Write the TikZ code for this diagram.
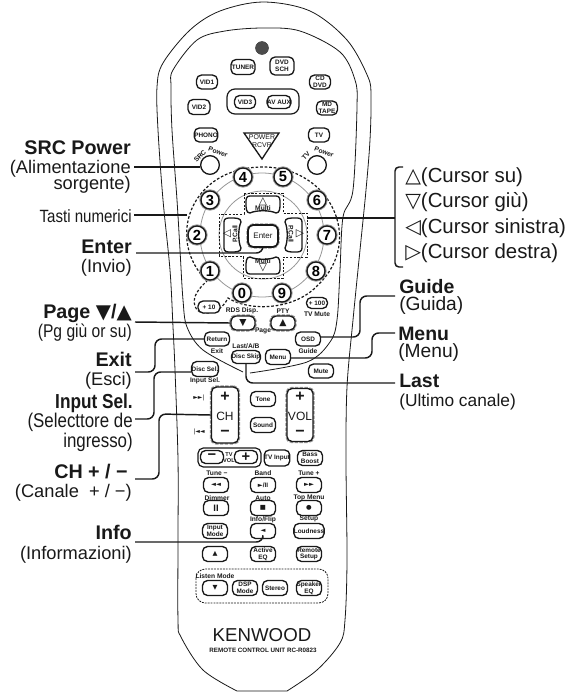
\documentclass[tikz,border=0pt]{standalone}
\usepackage{fontspec}
\setmainfont{Liberation Sans}
\newfontfamily\symbfont{DejaVu Sans}
\newcommand{\symb}[1]{{\symbfont #1}}
\newcommand{\narrowtxt}[1]{\scalebox{0.85}[1]{#1}}
\definecolor{inkblack}{RGB}{25, 25, 25}
\definecolor{halogray}{RGB}{150, 150, 150}
\tikzset{
  bodyline/.style={line width=0.6pt, inkblack},
  conn/.style={line width=1.1pt, inkblack, rounded corners=5pt},
  btn/.style 2 args={rectangle, rounded corners=3.8pt, draw=inkblack, fill=white, line width=1pt,
    minimum width=#1*0.75pt, minimum height=#2*0.75pt, inner sep=0pt, align=center,
    text=inkblack, font=\fontsize{4.8}{5}\selectfont\bfseries},
  padkey/.style={draw=inkblack, fill=white, line width=1pt},
  numkey/.style={circle, draw=inkblack, fill=white, line width=1pt, minimum size=13.5pt, inner sep=0pt,
    preaction={draw=halogray, line width=2.4pt}, font=\fontsize{11}{11}\selectfont\bfseries},
  roundkey/.style={circle, draw=inkblack, fill=white, line width=1pt, minimum size=14pt, inner sep=0pt},
  halo/.style={preaction={draw=halogray, densely dotted, line width=2.6pt}},
  tinylbl/.style={inner sep=0pt, align=center, text=inkblack, font=\fontsize{5}{5.4}\selectfont\bfseries},
  titlelbl/.style={anchor=base east, inner sep=0pt, text=inkblack, font=\fontsize{14.8}{15}\selectfont\bfseries},
  sublbl/.style={anchor=base east, inner sep=0pt, text=inkblack, font=\fontsize{13.7}{14}\selectfont},
  rtitle/.style={anchor=base west, inner sep=0pt, text=inkblack, font=\fontsize{14.6}{15}\selectfont\bfseries},
  rsub/.style={anchor=base west, inner sep=0pt, text=inkblack, font=\fontsize{14.4}{15}\selectfont}
}

\begin{document}
\begin{tikzpicture}[x=0.75pt, y=-0.75pt]
  \useasboundingbox (0,0) rectangle (580,693);

  % ===== remote body =====
  \draw[bodyline] plot[smooth, tension=0.55] coordinates
    {(237,691) (203,670) (181,637) (178,620) (178,540) (178,460) (175,370) (173,327) (170,270) (163,200)
     (158,130) (157,87) (163,63) (190,30) (220,11) (263,2) (310,11) (347,40) (368,77) (371,97)
     (370,140) (366,190) (360,250) (353,320) (347,387) (346,460) (347,560) (345,620) (340,643) (317,670) (287,691)}
    -- cycle;
  \draw[bodyline] plot[smooth, tension=0.55] coordinates
    {(243,372) (203,350) (187,327) (183,300) (180,250) (177,200) (172,130) (171,87) (173,70) (197,40)
     (225,31) (263,28) (300,31) (340,52) (355,80) (357,107) (353,190) (343,217) (340,270) (337,320)
     (330,342) (307,362) (250,373)};

  % ===== top buttons =====
  \node[circle, draw=inkblack, fill=white, line width=1pt, minimum size=9pt, inner sep=0pt] (led) at (262,48) {};
  \fill[black!70] (led) circle (6.5);
  \draw[line width=0.9pt, inkblack, rounded corners=6pt] (227,89) rectangle (299,114);
  \foreach \nm/\x/\y/\w/\h/\txt in {
      tuner/243/67/24/15/{TUNER}, dvd/282/66/24/18/{DVD\\SCH}, vida/207/82/21/14/{VID1}, cd/320/82/21/14/{CD\\DVD},
      vidc/245/102/21/13/{VID3}, avaux/279/102/23/13/{AV AUX}, vidb/199/107/22/15/{VID2}, md/327/108/21/14/{MD\\TAPE},
      phono/206/135/21/14/{PHONO}, tv/319/135/21/14/{TV}} {
    \node[btn={\w}{\h}] (\nm) at (\x,\y) {\txt};
  }
  \draw[line width=1pt, inkblack] (244,133) -- (279,133) -- (262,159) -- cycle;
  \node[tinylbl, font=\fontsize{5.2}{5.6}\selectfont] (powerrcvr) at (262,141) {POWER\\RCVR};

  \node[roundkey] (srcpower) at (210,165) {};
  \node[roundkey] (tvpower) at (317,165) {};
  \node[tinylbl, rotate=45] (srctxt) at (200,156) {SRC};
  \node[tinylbl, rotate=-22] (srcpowertxt) at (218,152) {Power};
  \node[tinylbl, rotate=45] (tvtxt) at (306,156) {TV};
  \node[tinylbl, rotate=-22] (tvpowertxt) at (324,152) {Power};

  % ===== number ring and cursor keys =====
  \draw[halogray, line width=0.6pt] (262,235) circle (62);
  \draw[halogray, line width=0.6pt] (263,235) circle (44);
  \draw[inkblack, line width=0.9pt, dashed, dash pattern=on 2pt off 1.4pt]
    (207,281) .. controls (165,240) and (190,167) .. (263,167)
    .. controls (330,167) and (365,240) .. (318,285)
    .. controls (295,310) and (250,312) .. (228,298)
    .. controls (222,312) and (205,317) .. (197,310)
    .. controls (190,300) and (197,290) .. (207,281);
  \draw[inkblack, line width=0.7pt, dashed, dash pattern=on 1.6pt off 1.2pt]
    (244,193) -- (283,193) -- (283,213) -- (307,213) -- (307,257) -- (283,257) -- (283,278)
    -- (243,278) -- (243,256) -- (219,256) -- (219,214) -- (244,214) -- cycle;

  \foreach \nm/\x/\y/\txt in {keyfour/243/177/4, keyfive/283/177/5, keythree/210/200/3, keysix/317/200/6, keytwo/197/235/2,
      keyseven/327/235/7, keyone/210/271/1, keyeight/316/271/8, keyzero/242/293/0, keynine/282/293/9} {
    \node[numkey] (\nm) at (\x,\y) {\txt};
  }

  % cursor keys: one shape turned four times
  \foreach \ang in {0,90,180,270} {
    \draw[padkey, rotate around={\ang:(263,235)}]
      (250,196) .. controls (246,196) and (246,199) .. (246,203)
      .. controls (246,208) and (246,213) .. (250,213)
      .. controls (256,210) and (270,210) .. (276,213)
      .. controls (280,213) and (280,208) .. (280,203)
      .. controls (280,199) and (280,196) .. (276,196) -- cycle;
  }
  \node[tinylbl] (curup) at (263,204) {{\fontsize{8}{6.5}\selectfont\symb{△}}\\[-0.5pt]Multi};
  \node[tinylbl] (curdown) at (263,265) {Multi\\[-0.5pt]{\fontsize{8}{6.5}\selectfont\symb{▽}}};
  \node[tinylbl, rotate=90] (pcalla) at (235,234) {P.Call};
  \node[tinylbl, rotate=-90] (pcallb) at (291,234) {P.Call};
  \node[tinylbl, font=\fontsize{8}{8}\selectfont\symbfont] (arrowl) at (227,234) {◁};
  \node[tinylbl, font=\fontsize{8}{8}\selectfont\symbfont] (arrowr) at (300,234) {▷};
  \node[btn={30}{22}, halo, line width=1.3pt, font=\fontsize{6}{6}\selectfont] (enter) at (263,236) {Enter};

  % ===== middle buttons =====
  \node[btn={22}{12}] (plusten) at (209,307) {+ 10};
  \node[btn={21}{11}] (plushundred) at (317,303) {+ 100};
  \node[tinylbl] (tvmute) at (317,314) {TV Mute};
  \node[tinylbl] (rdsdisp) at (242,311) {RDS Disp.};
  \node[tinylbl] (pty) at (283,311) {PTY};
  \node[tinylbl] (pagetxt) at (263,331) {Page};
  \node[tinylbl] (exittxt) at (217,351) {Exit};
  \node[tinylbl] (guidetxt) at (308,351) {Guide};
  \node[tinylbl] (lastab) at (246,346) {Last/A/B};
  \node[tinylbl] (inputseltxt) at (205,381) {Input Sel.};

  \node[btn={24}{14}, halo, font=\fontsize{7}{7}\selectfont\symbfont] (pagedown) at (243,323) {▼};
  \node[btn={24}{14}, halo, font=\fontsize{7}{7}\selectfont\symbfont] (pageup) at (283,323) {▲};
  \foreach \nm/\x/\y/\w/\h/\txt in {
      returnbtn/217/339/25/14/{Return}, osd/308/339/25/14/{OSD}, discskip/246/357/25/13/{Disc Skip}, menubtn/278/357/25/15/{Menu},
      mute/321/371/25/14/{Mute}, discsel/205/369/25/15/{Disc Sel.}, tone/263/399/25/15/{Tone}, sound/263/425/25/15/{Sound},
      tvinput/277/458/25/16/{TV Input}, bass/310/458/25/15/{Bass\\Boost}} {
    \node[btn={\w}{\h}] (\nm) at (\x,\y) {\txt};
  }

  \node[btn={27}{56}, halo] (chkey) at (225,415) {};
  \node[btn={26}{53}, halo] (volkey) at (300,415) {};
  \foreach \nm/\x/\y/\txt in {chplus/225/397/+, chminus/225/433/−, volplus/300/397/+, volminus/300/433/−} {
    \node[tinylbl, font=\fontsize{12}{12}\selectfont\bfseries] (\nm) at (\x,\y) {\txt};
  }
  \node[tinylbl, font=\fontsize{9}{9}\selectfont] (chtxt) at (225,416) {CH};
  \node[tinylbl, font=\fontsize{9}{9}\selectfont] (voltxt) at (300,416) {VOL};
  \node[tinylbl, font=\fontsize{4.5}{5}\selectfont\symbfont] (skipnext) at (199,398) {►►|};
  \node[tinylbl, font=\fontsize{4.5}{5}\selectfont\symbfont] (skipprev) at (199,432) {|◄◄};

  \draw[line width=0.9pt, inkblack, rounded corners=4pt] (198,448) rectangle (261,467);
  \node[btn={23}{13}, font=\fontsize{11}{11}\selectfont\bfseries] (tvminus) at (212,457) {−};
  \node[btn={23}{13}, font=\fontsize{11}{11}\selectfont\bfseries] (tvplus) at (246,457) {+};
  \node[tinylbl, font=\fontsize{4.2}{4.6}\selectfont\bfseries] (tvvol) at (229,458) {TV\\VOL};

  % ===== lower buttons =====
  \foreach \nm/\x/\y/\txt in {tunem/217/473/{Tune −}, band/263/473/{Band}, tunep/309/473/{Tune +}, dimmer/217/498/{Dimmer},
      auto/263/498/{Auto}, topmenu/309/498/{Top Menu}, infoflip/263/520/{Info/Flip}, setup/309/519/{Setup}, listenmode/215/576/{Listen Mode}} {
    \node[tinylbl] (\nm) at (\x,\y) {\txt};
  }
  \draw[inkblack, line width=0.6pt, dashed, dash pattern=on 1.4pt off 0.8pt, rounded corners=7pt] (196,569) rectangle (328,603);
  \foreach \nm/\x/\y/\txt in {
      rewind/216/485/{\symb{◄◄}}, playpause/263/485/{\symb{►}/II}, forward/309/485/{\symb{►►}},
      pausekey/216/508/{\fontsize{7}{7}\selectfont II}, stopkey/263/508/{\symb{■}}, recordkey/309/508/{\symb{●}},
      inputmode/215/531/{Input\\Mode}, infokey/263/531/{\symb{◄}}, loudness/309/531/{Loudness},
      upkey/215/554/{\symb{▲}}, activeeq/263/554/{Active\\EQ}, remotesetup/309/554/{Remote\\Setup},
      downkey/215/588/{\symb{▼}}, dspmode/245/588/{DSP\\Mode}, stereo/275/588/{Stereo}, speakereq/309/588/{Speaker\\EQ}} {
    \node[btn={25}{15}] (\nm) at (\x,\y) {\txt};
  }

  \node[anchor=base, inner sep=0pt, text=inkblack, font=\fontsize{14}{14}\selectfont] (kenwood) at (262,641) {KENWOOD};
  \node[anchor=base, inner sep=0pt, text=inkblack, font=\fontsize{4.7}{5}\selectfont\bfseries] (model) at (263,652) {REMOTE CONTROL UNIT RC-R0823};

  % ===== labels left =====
  \node[titlelbl] (srctitle) at (131,154) {SRC Power};
  \node[sublbl] (srcsuba) at (131,173) {(Alimentazione};
  \node[sublbl] (srcsubb) at (131,189) {sorgente)};
  \node[sublbl, font=\fontsize{13.3}{14}\selectfont] (tasti) at (132,222) {\narrowtxt{Tasti numerici}};
  \node[titlelbl] (entertitle) at (132,253) {Enter};
  \node[sublbl] (entersub) at (132,272) {(Invio)};
  \node[titlelbl] (pagetitle) at (132,318) {Page \symb{▼}/\symb{▲}};
  \node[sublbl, font=\fontsize{13.8}{14}\selectfont] (pagesub) at (132,337) {\narrowtxt{(Pg giù or su)}};
  \node[titlelbl] (exittitle) at (132,366) {Exit};
  \node[sublbl] (exitsub) at (132,385) {(Esci)};
  \node[titlelbl, font=\fontsize{15.2}{16}\selectfont\bfseries] (inputtitle) at (133,408) {\narrowtxt{Input Sel.}};
  \node[sublbl, font=\fontsize{14.9}{15}\selectfont] (inputsuba) at (133,427) {\narrowtxt{(Selecttore de}};
  \node[sublbl, font=\fontsize{14.9}{15}\selectfont] (inputsubb) at (133,447) {\narrowtxt{ingresso)}};
  \node[titlelbl] (chtitle) at (128,478) {CH + / −};
  \node[sublbl] (chsub) at (132,497) {(Canale~~+ / −)};
  \node[titlelbl] (infotitle) at (132,539) {Info};
  \node[sublbl] (infosub) at (132,559) {(Informazioni)};

  % ===== labels right =====
  \node[rsub, font=\fontsize{15.3}{15}\selectfont] (curlabela) at (405,182) {\symb{△}(Cursor su)};
  \node[rsub, font=\fontsize{15.3}{15}\selectfont] (curlabelb) at (405,207) {\symb{▽}(Cursor giù)};
  \node[rsub, font=\fontsize{15.3}{15}\selectfont] (curlabelc) at (405,233) {\symb{◁}(Cursor sinistra)};
  \node[rsub, font=\fontsize{15.3}{15}\selectfont] (curlabeld) at (405,258) {\symb{▷}(Cursor destra)};
  \node[rtitle] (guidetitle) at (399,293) {Guide};
  \node[rsub] (guidesub) at (399,310) {(Guida)};
  \node[rtitle] (menutitle) at (398,340) {Menu};
  \node[rsub] (menusub) at (398,357) {(Menu)};
  \node[rtitle] (lasttitle) at (399,387) {Last};
  \node[rsub, font=\fontsize{13}{14}\selectfont] (lastsub) at (399,406) {(Ultimo canale)};

  % ===== connectors =====
  \coordinate (srcend) at (134,167);
  \coordinate (tastiend) at (134,215);
  \coordinate (tastiring) at (187,215);
  \coordinate (enterend) at (136,253);
  \coordinate (pageend) at (135,322);
  \coordinate (exitend) at (135,372);
  \coordinate (inputend) at (135,419);
  \coordinate (chend) at (135,479);
  \coordinate (infoend) at (135,542);
  \coordinate (curend) at (395,218);
  \coordinate (curpad) at (307,218);
  \coordinate (guideend) at (395,296);
  \coordinate (menuend) at (395,333);
  \coordinate (lastend) at (395,383);

  \draw[conn] (srcend) -- (srcpower.west |- srcend);
  \draw[conn] (tastiend) -- (tastiring);
  \draw[conn] (enterend) -- (263,253) -- (enter.south);
  \draw[conn] (pageend) -- (pagedown.west);
  \draw[conn] (exitend) -- (155,372) -- (155,339) -- (returnbtn.west);
  \draw[conn] (inputend) -- (154,419) -- (154,372) -- (discsel.west |- 0,372);
  \draw[conn] (chend) -- (159,479) -- (159,414) -- (chkey.west);
  \draw[conn] (infoend) -- (263,542) -- (infokey.south);
  \draw[conn] (curpad) -- (curend);
  \draw[conn, rounded corners=3pt] (403,167) -- (395,167) -- (395,267) -- (403,267);
  \draw[conn] (guideend) -- (360,296) -- (360,337) -- (osd.east |- 0,337);
  \draw[conn] (menuend) -- (372,333) -- (372,358) -- (menubtn.east |- 0,358);
  \draw[conn] (lastend) -- (246,383) -- (discskip.south);

\end{tikzpicture}
\end{document}
